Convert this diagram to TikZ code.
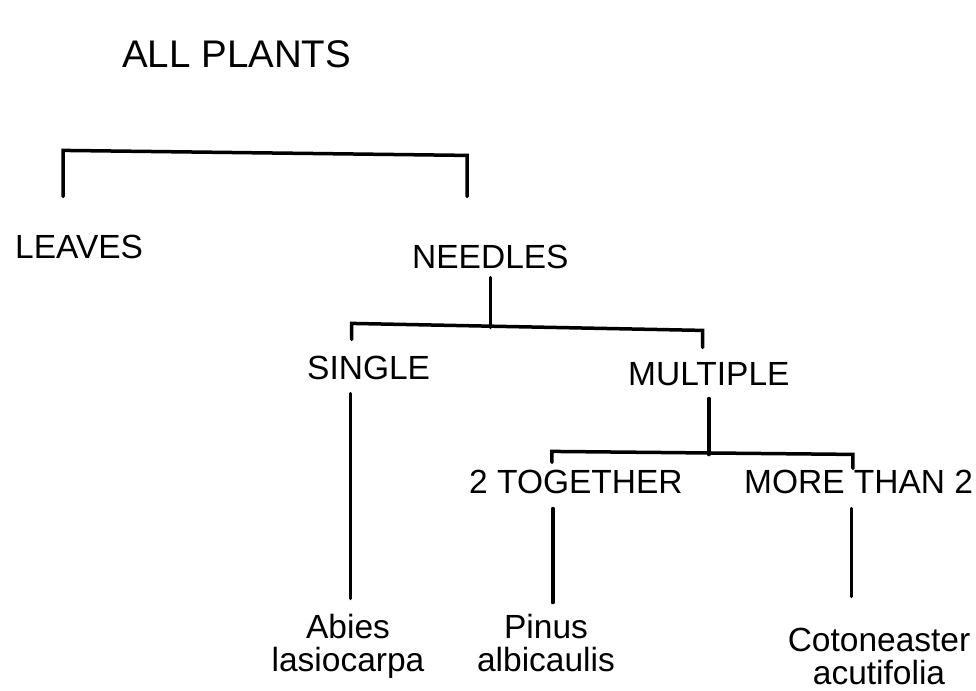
\documentclass[tikz,border=0pt]{standalone}
\usepackage{fontspec}
\setmainfont{Liberation Sans}
\usepackage{tikz}
\newcommand{\labelfont}{\fontsize{33.5}{33}\selectfont}
\newcommand{\titlefont}{\fontsize{38.5}{40}\selectfont}

\begin{document}
\begin{tikzpicture}[x=1pt, y=-1pt,
    lbl/.style={font=\labelfont, inner sep=0pt, anchor=base west},
    species/.style={font=\labelfont, inner sep=0pt, align=center, anchor=north},
    link/.style={line width=3.5pt, line cap=round}]
  \useasboundingbox (0,0) rectangle (976,690);

  % labels
  \node[lbl, font=\titlefont] (all) at (122,68) {ALL PLANTS};
  \node[lbl] (leaves) at (15,258) {LEAVES};
  \node[lbl] (needles) at (412,268) {NEEDLES};
  \node[lbl] (single) at (307,379) {SINGLE};
  \node[lbl] (multiple) at (628,385) {MULTIPLE};
  \node[lbl] (two) at (469,493) {2 TOGETHER};
  \node[lbl] (more) at (744,493) {MORE THAN 2};
  \node[species] (abies) at (348,614) {Abies\\lasiocarpa};
  \node[species] (pinus) at (546,614) {Pinus\\albicaulis};
  \node[species] (coto) at (879,628) {Cotoneaster\\acutifolia};

  % brackets and stems
  \draw[link] ([shift={(-16,-38)}]leaves.north) -- ++(0,-46) -- ++(404,5) -- ++(0,41);
  \draw[link] ([shift={(0,9)}]needles.south) -- ++(0,50);
  \draw[link] ([shift={(-17,-16)}]single.north) -- ++(0,-16) -- ++(351,7) -- ++(0,17);
  \draw[link] ([shift={(-18,14)}]single.south) -- ++(0,205);
  \draw[link] ([shift={(0,13)}]multiple.south) -- ++(0,56);
  \draw[link] ([shift={(-24,-7)}]two.north) -- ++(0,-11) -- ++(301,3) -- ++(0,14);
  \draw[link] ([shift={(-23,15)}]two.south) -- ++(0,94);
  \draw[link] ([shift={(-7,15)}]more.south) -- ++(0,88);
\end{tikzpicture}
\end{document}
